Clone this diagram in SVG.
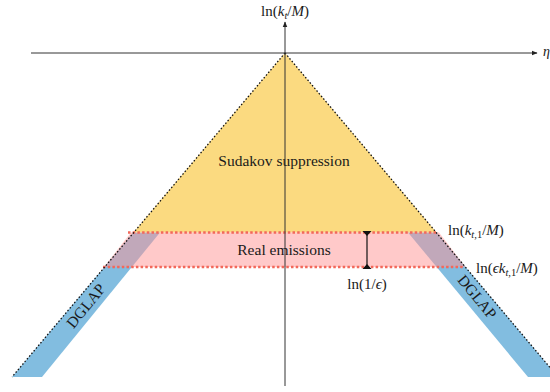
<svg xmlns="http://www.w3.org/2000/svg" width="550" height="392" viewBox="0 0 550 392">
<defs>
<marker id="arr" viewBox="0 0 10 10" refX="9" refY="5" markerWidth="6" markerHeight="6" orient="auto" markerUnits="userSpaceOnUse">
<path d="M0,1 L10,5 L0,9 Z" fill="#222"/>
</marker>
<style>
.t{font-family:"Liberation Serif","DejaVu Serif",serif;fill:#1a1a1a;}
.i{font-style:italic;}
.blue{fill:#82bde0;}
.reddot{stroke:#f2685a;stroke-width:2.5;stroke-dasharray:2.5 2.2;fill:none;}
.blkdot{stroke:#111;stroke-width:1.3;stroke-dasharray:1.5 2;fill:none;}
.axis{stroke:#333;stroke-width:1;fill:none;}
</style>
</defs>
<rect width="550" height="392" fill="#fff"/>
<g id="dglap-left">
<polygon class="blue" points="133.4,232.5 160,232.5 42,377 12,377"/>
<text class="t" font-size="15.5" text-anchor="middle" transform="translate(86,306) rotate(-50.6)" dy="5">DGLAP</text>
</g>
<g id="dglap-right">
<polygon class="blue" points="436.6,232.5 408,232.5 528,377 558,377"/>
<text class="t" font-size="15.5" text-anchor="middle" transform="translate(477,297) rotate(50.6)" dy="5">DGLAP</text>
</g>
<g id="sudakov">
<polygon points="285,53 133.4,232.5 436.6,232.5" fill="#fbda80"/>
<text class="t" x="284" y="166" font-size="15.5" text-anchor="middle">Sudakov suppression</text>
</g>
<g id="real-emissions">
<polygon points="131,232.5 439,232.5 465.5,267 104,267" fill="#ff9494" fill-opacity="0.5"/>
<text class="t" x="284" y="255" font-size="15.5" text-anchor="middle">Real emissions</text>
</g>
<g id="connectors">
<line class="reddot" x1="128" y1="232.5" x2="438" y2="232.5"/>
<line class="reddot" x1="103" y1="267" x2="463" y2="267"/>
<line class="blkdot" x1="285" y1="53" x2="12" y2="377"/>
<line class="blkdot" x1="285" y1="53" x2="558" y2="377"/>
<line class="axis" x1="31" y1="53" x2="537" y2="53" marker-end="url(#arr)"/>
<line class="axis" x1="285" y1="386" x2="285" y2="22" marker-end="url(#arr)"/>
<line x1="367" y1="232" x2="367" y2="268" stroke="#111" stroke-width="1.2"/>
<path d="M362.5,231 L371.5,231 L367,236 Z M362.5,269 L371.5,269 L367,264 Z" fill="#111"/>
</g>
<g id="labels">
<text class="t" x="285" y="16" font-size="15" text-anchor="middle">ln(<tspan class="i">k</tspan><tspan class="i" font-size="10.5" dy="3">t</tspan><tspan dy="-3">/</tspan><tspan class="i">M</tspan>)</text>
<text class="t i" x="543" y="56" font-size="14">η</text>
<text class="t" x="448" y="235" font-size="15">ln(<tspan class="i">k</tspan><tspan font-size="10.5" dy="3"><tspan class="i">t</tspan>,1</tspan><tspan dy="-3">/</tspan><tspan class="i">M</tspan>)</text>
<text class="t" x="476" y="273" font-size="15">ln(<tspan class="i">ϵk</tspan><tspan font-size="10.5" dy="3"><tspan class="i">t</tspan>,1</tspan><tspan dy="-3">/</tspan><tspan class="i">M</tspan>)</text>
<text class="t" x="367" y="289" font-size="15" text-anchor="middle">ln(1/<tspan class="i">ϵ</tspan>)</text>
</g>
</svg>
